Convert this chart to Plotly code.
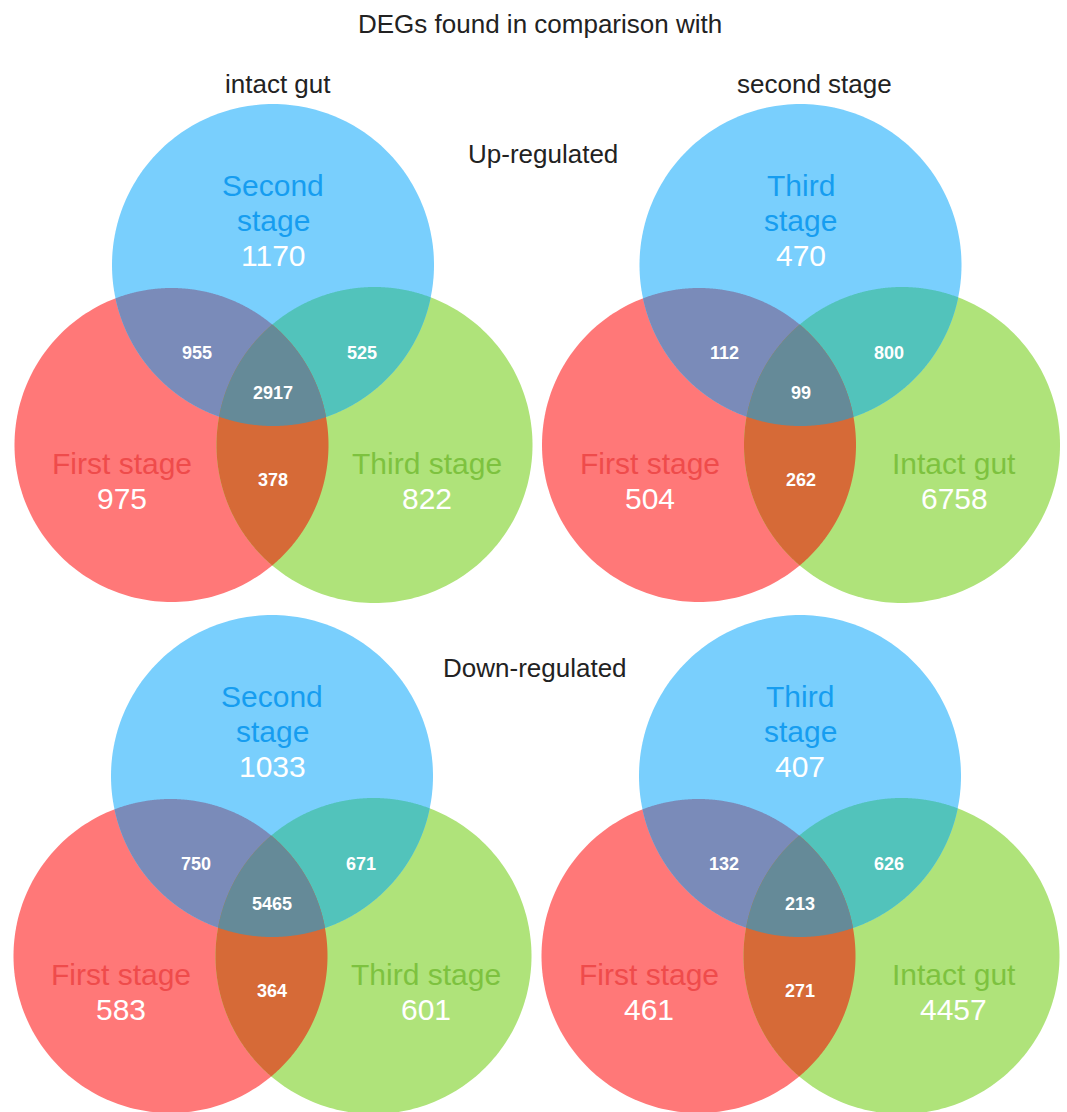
import numpy as np
import plotly.graph_objects as go

# ---------------- data ----------------
# order of counts: [A only, B only, C only, A&B, B&C, A&C, A&B&C]
# A = red (lower left), B = blue (top), C = green (lower right)
names_vs_intact = ["First stage", "Second stage", "Third stage"]
names_vs_second = ["First stage", "Third stage", "Intact gut"]
up_vs_intact = [975, 1170, 822, 955, 525, 378, 2917]
up_vs_second = [504, 470, 6758, 112, 800, 262, 99]
down_vs_intact = [583, 1033, 601, 750, 671, 364, 5465]
down_vs_second = [461, 407, 4457, 132, 626, 271, 213]

column_titles = ["intact gut", "second stage"]
row_titles = ["Up-regulated", "Down-regulated"]
main_title = "DEGs found in comparison with"

# ---------------- layout / style ----------------
W, H = 1067, 1112
FONT = "Liberation Sans, Arial, sans-serif"

panels = [
    (up_vs_intact, names_vs_intact, (273, 265)),
    (up_vs_second, names_vs_second, (800.5, 265)),
    (down_vs_intact, names_vs_intact, (272, 776)),
    (down_vs_second, names_vs_second, (800, 776)),
]

RED_OFF, GREEN_OFF = (-101.5, 180), (101.5, 180)
R_BLUE, R_RED, R_GREEN = 161, 157, 158

COL = {
    "A": "#FF7878", "B": "#79CFFD", "C": "#AFE37A",
    "AB": "#7A8BB9", "BC": "#52C3BB", "AC": "#D66A37", "ABC": "#658A98",
}
NAME_COL = {"A": "#EF4B4B", "B": "#169DF0", "C": "#7DC23F"}


def circle_path(cx, cy, r, n=240):
    t = np.linspace(0, 2 * np.pi, n, endpoint=False)
    xs, ys = cx + r * np.cos(t), cy + r * np.sin(t)
    return "M " + " L ".join(f"{x:.2f},{y:.2f}" for x, y in zip(xs, ys)) + " Z"


def intersection_path(circles, n=1440):
    pts = []
    for i, (cx, cy, r) in enumerate(circles):
        t = np.linspace(0, 2 * np.pi, n, endpoint=False)
        xs, ys = cx + r * np.cos(t), cy + r * np.sin(t)
        keep = np.ones(n, dtype=bool)
        for j, (ox, oy, orad) in enumerate(circles):
            if j != i:
                keep &= (xs - ox) ** 2 + (ys - oy) ** 2 <= (orad + 0.01) ** 2
        pts.append(np.column_stack([xs[keep], ys[keep]]))
    pts = np.vstack(pts)
    c = pts.mean(axis=0)
    ang = np.arctan2(pts[:, 1] - c[1], pts[:, 0] - c[0])
    pts = pts[np.argsort(ang)]
    return "M " + " L ".join(f"{x:.2f},{y:.2f}" for x, y in pts) + " Z"


shapes = []
annotations = []


def add_text(x, y, text, size, color, bold=False):
    annotations.append(dict(
        x=x, y=y, xref="x", yref="y", text=(f"<b>{text}</b>" if bold else text),
        showarrow=False, xanchor="center", yanchor="middle",
        font=dict(family=FONT, size=size, color=color),
    ))


for counts, names, (bx, by) in panels:
    A = (bx + RED_OFF[0], by + RED_OFF[1], R_RED)
    B = (bx, by, R_BLUE)
    C = (bx + GREEN_OFF[0], by + GREEN_OFF[1], R_GREEN)
    regions = [
        ("A", [A]), ("C", [C]), ("B", [B]),
        ("AB", [A, B]), ("BC", [B, C]), ("AC", [A, C]), ("ABC", [A, B, C]),
    ]
    for key, circs in regions:
        path = circle_path(*circs[0]) if len(circs) == 1 else intersection_path(circs)
        shapes.append(dict(type="path", path=path, xref="x", yref="y",
                           fillcolor=COL[key], line=dict(width=0), layer="below"))

    a_only, b_only, c_only, ab, bc, ac, abc = counts
    # top circle: name split in two lines
    w1, w2 = names[1].split(" ", 1)
    add_text(bx, by - 80, w1, 30, NAME_COL["B"])
    add_text(bx, by - 45, w2, 30, NAME_COL["B"])
    add_text(bx, by - 10, str(b_only), 30, "white")
    # left circle
    add_text(bx - 151, by + 198, names[0], 30, NAME_COL["A"])
    add_text(bx - 151, by + 233, str(a_only), 30, "white")
    # right circle
    add_text(bx + 153.5, by + 198, names[2], 30, NAME_COL["C"])
    add_text(bx + 153.5, by + 233, str(c_only), 30, "white")
    # overlaps
    add_text(bx - 76.5, by + 88, str(ab), 18, "white", bold=True)
    add_text(bx + 88.5, by + 88, str(bc), 18, "white", bold=True)
    add_text(bx, by + 128, str(abc), 18, "white", bold=True)
    add_text(bx, by + 215, str(ac), 18, "white", bold=True)

add_text(539.5, 24, main_title, 26, "#222222")
add_text(277.5, 84, column_titles[0], 26, "#222222")
add_text(814, 84, column_titles[1], 26, "#222222")
add_text(542.5, 154, row_titles[0], 26, "#222222")
add_text(534.5, 668, row_titles[1], 26, "#222222")

fig = go.Figure()
fig.add_trace(go.Scatter(x=[0, W], y=[0, H], mode="markers",
                         marker=dict(opacity=0), hoverinfo="skip", showlegend=False))
fig.update_layout(
    width=W, height=H, margin=dict(l=0, r=0, t=0, b=0),
    paper_bgcolor="white", plot_bgcolor="white",
    xaxis=dict(range=[0, W], visible=False, fixedrange=True),
    yaxis=dict(range=[H, 0], visible=False, fixedrange=True),
    shapes=shapes, annotations=annotations, showlegend=False,
)
fig.write_html("out.html")
